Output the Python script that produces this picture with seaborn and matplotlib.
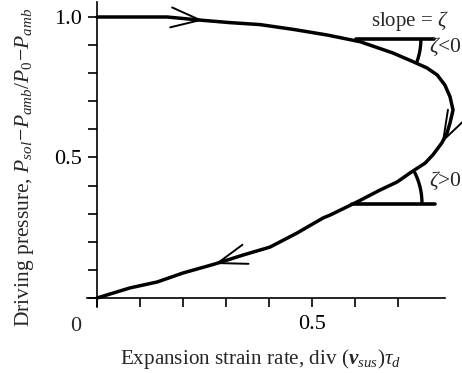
import matplotlib
matplotlib.use("Agg")
import matplotlib.pyplot as plt
import numpy as np
import seaborn as sns

# curve (strain rate, driving pressure), traversed from top to origin
curve_x = [0.0, 0.163, 0.247, 0.309, 0.379, 0.456, 0.535, 0.612, 0.688, 0.735, 0.767,
           0.791, 0.809, 0.821, 0.828, 0.821, 0.814, 0.802, 0.781, 0.763, 0.728, 0.698,
           0.658, 0.605, 0.542, 0.526, 0.465, 0.402, 0.340, 0.274, 0.200, 0.140, 0.077, 0.0]
curve_y = [1.0, 1.0, 0.988, 0.980, 0.973, 0.956, 0.936, 0.912, 0.872, 0.841, 0.819,
           0.794, 0.758, 0.716, 0.669, 0.623, 0.587, 0.552, 0.509, 0.480, 0.445, 0.413,
           0.384, 0.342, 0.295, 0.285, 0.231, 0.181, 0.153, 0.121, 0.089, 0.057, 0.036, 0.0]

# horizontal reference lines at the two tangent points
upper_tan_x = [0.602, 0.784]
upper_tan_y = [0.920, 0.920]
lower_tan_x = [0.593, 0.786]
lower_tan_y = [0.336, 0.336]

# arrow heads: (tip, point behind it on the curve)
arrow_tips = [(0.247, 0.988), (0.802, 0.552), (0.274, 0.121)]
arrow_tails = [(0.163, 1.0), (0.814, 0.587), (0.340, 0.153)]

x_ticks = [0.0, 0.1, 0.2, 0.3, 0.4, 0.5, 0.6, 0.7]
x_ticklabels = ["", "", "", "", "", "0.5", "", ""]
y_ticks = [0.0, 0.1, 0.2, 0.3, 0.4, 0.5, 0.6, 0.7, 0.8, 0.9, 1.0]
y_ticklabels = ["", "", "", "", "", "0.5", "", "", "", "", "1.0"]


def draw_arc(ax, center, r_px, a0, a1, lw):
    cx, cy = ax.transData.transform(center)
    t = np.radians(np.linspace(a0, a1, 40))
    pts = np.column_stack([cx + r_px * np.cos(t), cy + r_px * np.sin(t)])
    xy = ax.transData.inverted().transform(pts)
    ax.plot(xy[:, 0], xy[:, 1], color="black", lw=lw, solid_capstyle="butt")


def main() -> int:
    sns.set_theme(style="white")
    plt.rcParams["font.family"] = ["Liberation Serif", "DejaVu Serif"]
    plt.rcParams["mathtext.fontset"] = "custom"
    plt.rcParams["mathtext.rm"] = "Liberation Serif"
    plt.rcParams["mathtext.it"] = "Liberation Serif:italic"
    plt.rcParams["mathtext.bf"] = "Liberation Serif:italic:bold"

    fig = plt.figure(figsize=(4.62, 3.73), dpi=100)
    ax = fig.add_axes([0.18203, 0.17094, 0.80974, 0.82869])
    ax.set_xlim(-0.03, 0.84)
    ax.set_ylim(-0.04, 1.06)

    sns.lineplot(x=curve_x, y=curve_y, sort=False, estimator=None, color="black",
                 lw=2.5, solid_joinstyle="round", ax=ax)
    sns.lineplot(x=upper_tan_x, y=upper_tan_y, color="black", lw=2.6, ax=ax)
    sns.lineplot(x=lower_tan_x, y=lower_tan_y, color="black", lw=2.6, ax=ax)

    draw_arc(ax, (upper_tan_x[0], upper_tan_y[0]), 65, 0, -21, 2.4)
    draw_arc(ax, (lower_tan_x[0], lower_tan_y[0]), 70, 0, 27, 2.4)

    for tip, tail in zip(arrow_tips, arrow_tails):
        ax.annotate("", xy=tip, xytext=tail,
                    arrowprops=dict(arrowstyle="->,head_length=2.1,head_width=0.72",
                                    mutation_scale=10, color="black", lw=1.4,
                                    shrinkA=0, shrinkB=0))

    ax.text(0.728, 0.986, r"slope = $\zeta$", ha="center", va="center", fontsize=15)
    ax.text(0.773, 0.895, r"$\zeta$<0", ha="left", va="center", fontsize=15.5)
    ax.text(0.773, 0.418, r"$\zeta$>0", ha="left", va="center", fontsize=15.5)
    ax.text(-0.049, -0.10, "0", ha="center", va="center", fontsize=16)

    # axes crossing at the origin
    for side in ["top", "right"]:
        ax.spines[side].set_visible(False)
    ax.spines["left"].set_position(("data", 0))
    ax.spines["bottom"].set_position(("data", 0))
    ax.spines["left"].set_bounds(-0.032, 1.053)
    ax.spines["bottom"].set_bounds(-0.023, 0.81)
    for side in ["left", "bottom"]:
        ax.spines[side].set_color("black")
        ax.spines[side].set_linewidth(1.2)

    ax.set_xticks(x_ticks)
    ax.set_xticklabels(x_ticklabels)
    ax.set_yticks(y_ticks)
    ax.set_yticklabels(y_ticklabels)
    ax.tick_params(axis="both", direction="out", length=6.5, width=1.2, color="black",
                   labelsize=16, labelcolor="black")
    ax.tick_params(axis="x", pad=6, bottom=True)
    ax.tick_params(axis="y", pad=4, left=True)
    ax.grid(False)

    fig.text(261 / 462, 1 - 364 / 373,
             r"Expansion strain rate, div ($\mathbf{v}_{sus}$)$\tau_d$",
             ha="center", va="baseline", fontsize=15.2)
    fig.text(25 / 462, 1 - 167 / 373,
             r"Driving pressure, $P_{sol}\!-\!P_{amb}/P_0\!-\!P_{amb}$",
             ha="center", va="center", rotation=90, fontsize=15.5)

    fig.savefig("out.png", dpi=100)
    plt.close(fig)
    return 0


if __name__ == "__main__":
    raise SystemExit(main())
